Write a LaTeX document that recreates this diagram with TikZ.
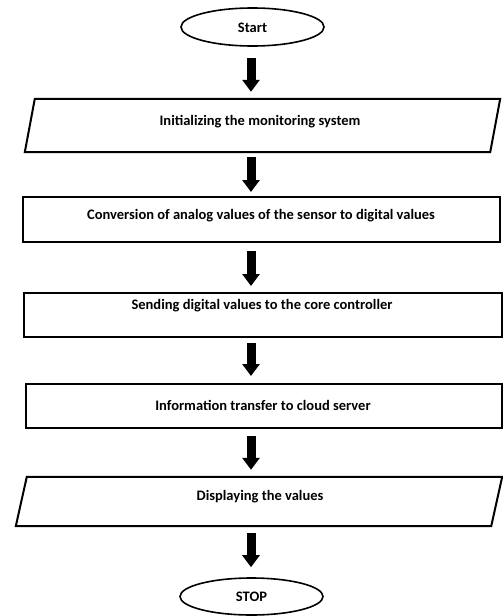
\documentclass[tikz,border=0pt]{standalone}
\usepackage{fontspec}
\setmainfont{Carlito}
\usetikzlibrary{arrows.meta,shapes.geometric}
\begin{document}
\begin{tikzpicture}[x=1pt,y=-1pt,
  box/.style={draw=black,line width=2pt,minimum width=#1,inner sep=0pt},
  term/.style={ellipse,draw=black,line width=1.6pt,minimum width=143pt,inner sep=0pt},
  lbl/.style={font=\bfseries\fontsize{14.5}{16}\selectfont,inner sep=0pt},
  frame/.style={inner sep=0pt,minimum width=#1},
  bigarrow/.style={line width=9pt,-{Triangle[length=12pt,width=17pt]}}
]
\useasboundingbox (0,0) rectangle (503,616);
% terminals
\node[term,minimum height=38pt] (start) at (252.5,27) {};
\node[lbl] (tstart) at (252.5,28) {Start};
\node[term,minimum height=37pt] (stop) at (251.5,596.5) {};
\node[lbl] (tstop) at (251.5,597) {STOP};
% parallelogram 1
\node[frame=475pt,minimum height=53pt] (p1) at (262.5,125.5) {};
\draw[line width=2pt,line join=miter] ([xshift=10pt]p1.north west) -- (p1.north east)
  -- ([xshift=-10pt]p1.south east) -- (p1.south west) -- cycle;
\node[lbl] (t1) at (260,122) {Initializing the monitoring system};
% rectangles
\node[box=477pt,minimum height=45pt] (r2) at (261.5,219.5) {};
\node[lbl] (t2) at (261,216) {Conversion of analog values of the sensor to digital values};
\node[box=478pt,minimum height=44pt] (r3) at (263,315) {};
\node[lbl] (t3) at (262,306) {Sending digital values to the core controller};
\node[box=476pt,minimum height=44pt] (r4) at (264,406) {};
\node[lbl] (t4) at (263,405) {Information transfer to cloud server};
% parallelogram 2
\node[frame=486pt,minimum height=49pt] (p2) at (259,501.5) {};
\draw[line width=2pt,line join=miter] ([xshift=11pt]p2.north west) -- (p2.north east)
  -- ([xshift=-11pt]p2.south east) -- (p2.south west) -- cycle;
\node[lbl] (t5) at (260,497) {Displaying the values};
% arrows
\coordinate (ax) at (251,0);
\draw[bigarrow,shorten <=11pt,shorten >=7pt] (ax |- start.south) -- (ax |- p1.north);
\draw[bigarrow,shorten <=5pt,shorten >=4pt] (ax |- p1.south) -- (ax |- r2.north);
\draw[bigarrow,shorten <=8pt,shorten >=6pt] (ax |- r2.south) -- (ax |- r3.north);
\draw[bigarrow,shorten <=5pt,shorten >=7pt] (ax |- r3.south) -- (ax |- r4.north);
\draw[bigarrow,shorten <=7pt,shorten >=7pt] (ax |- r4.south) -- (ax |- p2.north);
\draw[bigarrow,shorten <=7pt,shorten >=10pt] (ax |- p2.south) -- (ax |- stop.north);
\end{tikzpicture}
\end{document}
